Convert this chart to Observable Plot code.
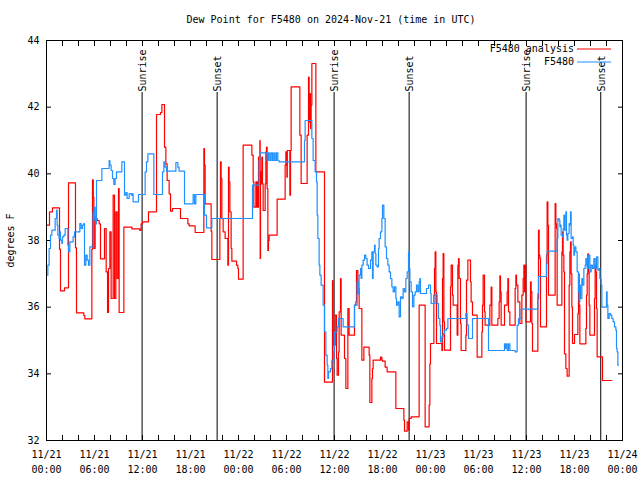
<!DOCTYPE html>
<html><head><meta charset="utf-8">
<script src="https://cdn.jsdelivr.net/npm/d3@7"></script>
<script src="https://cdn.jsdelivr.net/npm/@observablehq/plot@0.6"></script>
<style>
body{margin:0;background:#fff;}
#title{box-sizing:border-box;width:640px;height:30px;padding-top:14px;padding-left:22px;text-align:center;font:10px "DejaVu Sans Mono",monospace;line-height:12px;color:#000;}
</style></head><body>
<div id="title">Dew Point for F5480 on 2024-Nov-21 (time in UTC)</div>
<div id="chart"></div>
<script>
const startDate = "2024-11-21T00:00:00Z";
const seriesNames = ["F5480 analysis", "F5480"];
const seriesColors = ["#ff0000", "#1e90ff"];

const analysisHours = [0,0.375,0.75,1.625,1.75,2.25,2.75,3.625,3.75,4.67,4.79,5.67,5.75,5.85,5.92,6.08,6.33,6.58,6.75,7.25,7.46,7.63,7.75,7.92,8.08,8.33,8.5,8.67,8.83,9.0,9.08,9.67,10.67,11.67,11.83,12.0,12.75,13.75,14.25,14.42,14.75,14.92,15.08,15.33,15.5,15.75,16.75,17.67,17.83,18.58,19.67,19.75,19.83,20.58,20.67,21.67,21.75,21.83,21.92,22.08,22.33,22.67,22.75,22.83,22.92,23.08,23.17,23.75,23.92,24.0,24.58,25.67,25.83,25.92,26.17,26.25,26.33,26.42,26.5,26.67,26.71,26.75,26.83,26.92,27.0,27.08,27.33,27.42,27.5,27.58,27.67,27.75,27.83,28.83,29.83,29.92,30.05,30.1,30.42,30.5,30.58,31.67,31.83,32.58,32.75,32.83,32.92,33.0,33.08,33.17,33.67,34.75,35.75,35.83,35.92,36.08,36.25,36.33,36.5,36.58,36.75,36.83,37.25,37.42,37.67,37.83,38.5,38.67,38.75,38.92,39.08,39.42,39.67,40.33,40.42,40.67,40.75,40.83,41.75,41.92,42.0,42.33,42.58,43.67,44.67,44.75,45.08,45.25,45.33,45.58,46.58,47.33,47.83,47.92,48.0,48.42,48.5,48.58,48.67,48.75,49.42,49.5,49.58,49.67,49.75,50.5,50.58,50.75,50.83,51.33,51.42,51.5,51.58,51.75,51.83,52.42,52.5,52.67,53.0,53.08,53.25,53.83,54.42,54.5,54.58,54.75,54.83,55.42,55.58,55.67,56.42,56.58,56.67,56.75,56.83,57.25,57.58,57.67,57.75,57.92,58.58,58.67,58.75,58.92,59.17,59.42,59.58,59.67,59.75,59.83,59.92,60.5,60.58,60.67,60.75,61.42,61.5,61.58,61.67,61.75,62.5,62.58,62.67,62.75,63.58,63.67,63.75,63.83,64.42,64.5,64.58,64.67,64.75,64.92,65.08,65.33,65.42,65.5,65.58,65.67,65.75,66.0,66.42,66.5,66.58,66.67,67.42,67.5,67.58,67.67,67.75,67.83,67.92,68.5,68.58,68.67,68.75,68.83,69.5,70.67];
const analysisValues = [38.46,38.86,38.98,37.74,36.49,36.58,39.73,37.78,35.83,35.75,35.65,37.74,39.82,39.3,37.76,38.66,38.6,38.5,37.45,38.36,37.06,35.84,37.16,38.26,36.26,39.36,36.26,38.86,36.86,39.56,35.84,38.4,38.35,38.3,38.5,38.56,38.86,41.78,41.84,42.08,40.8,40.3,39.8,39.4,38.88,38.96,38.66,38.5,38.44,38.24,40.76,40.26,39.1,38.28,37.43,38.66,40.36,39.86,38.66,38.26,38.06,37.26,40.2,39.76,38.86,37.76,37.38,37.26,37.16,36.84,40.86,40.56,39.76,39.0,39.76,39.0,39.76,39.0,40.5,41.0,37.46,40.06,39.7,40.5,39.7,38.9,39.7,40.66,40.8,39.56,37.7,38.0,38.16,39.24,40.26,40.66,39.9,40.7,39.36,40.7,42.61,41.16,39.71,41.16,42.9,41.56,42.41,41.36,42.06,43.31,40.06,33.75,36.8,35.3,34.86,35.76,34.46,33.96,34.66,35.86,36.86,35.16,34.46,33.56,35.96,35.16,36.06,36.16,37.1,36.56,35.96,34.41,34.8,34.56,33.14,33.86,34.16,34.41,34.5,34.41,34.38,34.2,34.06,32.96,32.61,32.28,32.56,32.31,32.66,32.71,36.06,32.41,33.06,34.3,34.91,36.36,37.16,37.66,36.46,34.91,34.7,36.86,37.61,35.56,34.71,36.61,37.26,36.36,36.06,35.16,37.26,37.46,36.86,35.51,34.7,35.16,36.81,37.41,36.76,36.16,35.76,34.5,35.26,36.06,36.96,35.86,35.46,36.06,36.6,35.46,35.66,36.16,36.94,36.46,35.46,36.06,36.46,36.86,35.86,35.46,36.56,36.96,36.66,36.16,35.51,36.36,36.86,37.26,36.46,37.26,35.56,36.76,36.46,35.51,34.68,36.26,38.31,37.56,37.46,35.41,37.56,39.16,38.46,36.36,39.11,38.5,38.36,36.06,37.66,38.26,37.56,37.06,34.6,34.16,33.93,36.66,37.66,37.96,37.0,36.0,34.91,35.18,35.8,37.0,36.06,34.9,35.36,36.36,37.0,37.6,37.06,36.06,35.16,36.26,37.26,37.06,35.96,34.51,33.8,33.8];

const stationHours = [0,0.17,0.33,0.5,0.67,1.08,1.25,1.33,1.42,1.58,1.67,1.75,1.92,2.0,2.17,2.33,2.67,2.75,2.92,3.33,3.5,4.17,4.33,4.5,4.67,4.75,4.92,5.08,5.25,5.42,5.83,5.92,6.0,6.08,6.17,6.25,6.92,7.83,7.92,8.08,8.25,8.42,8.58,8.75,9.42,9.75,9.92,10.08,10.33,10.58,10.75,10.83,11.5,12.33,12.5,12.67,13.42,14.5,14.67,14.83,15.0,16.17,16.42,16.58,17.25,18.0,18.33,18.5,18.67,19.75,20.0,20.67,25.75,26.58,26.67,27.58,27.75,27.92,28.08,28.25,28.42,28.58,28.75,28.92,29.08,32.25,32.33,33.17,33.33,33.58,33.75,33.83,33.92,34.08,34.17,34.33,34.58,34.75,34.92,35.08,35.17,35.25,35.5,35.67,35.92,36.0,36.33,36.5,37.08,38.5,38.83,38.92,39.08,39.25,39.33,39.42,39.58,39.75,39.92,40.08,40.25,40.5,40.67,40.75,40.83,41.0,41.08,41.17,41.33,41.5,41.58,41.75,41.92,42.0,42.17,42.33,42.5,42.67,42.83,43.0,43.17,43.33,43.5,43.67,43.75,43.92,44.08,44.25,44.42,44.58,44.75,44.92,45.08,45.25,45.33,45.42,45.58,45.75,45.92,46.08,46.25,46.42,46.58,46.67,46.75,47.5,47.75,48.0,48.08,48.58,48.83,49.0,49.17,49.25,49.42,49.58,49.75,50.0,50.17,52.42,52.58,52.75,53.25,55.25,57.25,57.33,57.42,57.58,57.75,57.92,58.58,58.83,59.0,59.33,61.42,61.5,62.5,62.58,63.83,63.92,64.08,64.17,64.25,64.33,64.5,64.58,64.67,64.75,64.92,65.0,65.08,65.17,65.33,65.42,65.5,65.58,65.75,65.83,65.92,66.0,66.08,66.17,66.33,66.5,66.58,66.67,66.75,66.92,67.0,67.17,67.33,67.42,67.58,67.75,67.92,68.08,68.25,68.42,68.58,68.75,68.92,69.08,69.17,69.33,69.42,70.0,70.08,70.17,70.33,70.5,70.67,70.83,71.0,71.17,71.25,71.33,71.42,71.5];
const stationValues = [36.96,37.26,37.76,38.16,38.31,38.66,38.91,38.46,38.16,38.06,38.26,38.01,37.91,38.11,38.16,38.36,37.86,37.66,37.96,38.11,38.26,38.51,38.36,38.46,38.51,37.26,37.56,37.41,37.26,37.81,38.86,38.61,39.0,38.7,38.5,39.8,40.16,40.4,40.26,40.1,39.86,39.68,39.86,40.06,40.36,39.36,39.44,39.26,39.41,39.36,39.41,39.16,39.38,40.06,40.36,40.6,39.38,40.06,40.36,40.2,40.08,40.34,40.2,40.08,39.1,39.1,39.38,39.1,39.38,38.76,38.38,38.66,39.66,40.4,40.63,40.4,40.63,40.4,40.63,40.4,40.63,40.4,40.63,40.4,40.36,41.0,41.6,41.06,40.4,40.06,39.76,38.76,38.06,37.26,36.96,36.66,36.06,35.26,34.56,34.26,33.86,34.06,34.16,34.41,34.66,35.26,35.41,35.66,35.41,36.06,36.76,36.4,36.96,37.16,36.86,37.26,37.41,37.56,37.46,37.26,37.16,37.41,37.66,36.86,37.66,37.86,37.61,37.26,37.21,37.76,38.06,38.26,38.66,39.06,38.66,37.81,37.46,37.26,37.06,36.86,36.61,36.46,36.61,36.26,36.06,36.16,35.71,36.31,36.26,36.56,36.46,36.86,37.06,37.66,37.16,36.76,36.46,36.01,36.36,36.46,36.66,36.46,36.76,36.86,36.41,36.56,36.66,36.41,36.11,36.38,36.11,35.66,35.46,34.96,35.11,35.21,35.31,35.36,35.66,35.81,35.46,35.06,35.66,34.7,34.9,34.76,34.9,34.7,34.9,34.7,34.66,35.46,35.66,35.94,36.41,36.92,37.3,37.68,38.06,38.66,38.61,38.41,38.46,38.16,38.11,38.36,38.76,38.31,38.86,38.16,38.01,38.21,38.51,38.46,38.86,38.06,38.11,37.86,37.56,37.76,37.81,37.66,37.06,36.46,36.16,36.66,36.26,36.86,36.66,37.16,37.26,37.46,37.16,37.56,37.06,37.26,37.16,37.46,37.16,37.51,37.11,37.16,36.86,36.66,36.0,36.46,36.06,35.66,35.81,35.76,35.66,35.56,35.41,35.31,34.76,34.66,34.26,34.26];

const sunHours = [11.95, 21.33, 35.95, 45.33, 59.95, 69.28];
const sunLabels = ["Sunrise", "Sunset", "Sunrise", "Sunset", "Sunrise", "Sunset"];
const yTicks = [32, 34, 36, 38, 40, 42, 44];
const xLabelHours = [0, 6, 12, 18, 24, 30, 36, 42, 48, 54, 60, 66, 72];
const xMinorHours = d3.range(0, 73, 2);

const t0 = new Date(startDate).getTime();
const toDate = h => new Date(t0 + h * 3600e3);
const analysis = analysisHours.map((h, i) => ({date: toDate(h), value: analysisValues[i]}));
const station = stationHours.map((h, i) => ({date: toDate(h), value: stationValues[i]}));
const sun = sunHours.map((h, i) => ({date: toDate(h), label: sunLabels[i]}));
const fmt = d3.utcFormat("%m/%d\n%H:%M");
const font = "DejaVu Sans Mono";

function legendMark(index, scales, values, dims) {
  const g = d3.create("svg:g").attr("font-family", font).attr("font-size", 10).attr("fill", "black");
  const xr = dims.width - dims.marginRight;
  seriesNames.forEach((name, i) => {
    const y = dims.marginTop + 9 + i * 13;
    g.append("text").attr("x", xr - 48).attr("y", y).attr("dy", "0.32em").attr("text-anchor", "end").text(name);
    g.append("line").attr("x1", xr - 45).attr("x2", xr - 11).attr("y1", y).attr("y2", y)
      .attr("stroke", seriesColors[i]).attr("stroke-width", 1.2);
  });
  return g.node();
}

const chart = Plot.plot({
  width: 640, height: 450,
  marginLeft: 46, marginRight: 18, marginTop: 10, marginBottom: 40,
  style: {fontFamily: font, fontSize: "10px", color: "black", background: "white"},
  x: {type: "utc", domain: [toDate(0), toDate(72)]},
  y: {domain: [32, 44]},
  marks: [
    Plot.axisX({ticks: xLabelHours.map(toDate), tickSize: 0, tickPadding: 7, tickFormat: fmt, label: null, lineHeight: 1.5}),
    Plot.axisX({ticks: xMinorHours.map(toDate), anchor: "bottom", tickSize: -5, tickFormat: () => "", label: null}),
    Plot.axisX({ticks: xMinorHours.map(toDate), anchor: "top", tickSize: -5, tickFormat: () => "", label: null}),
    Plot.axisY({ticks: yTicks, tickSize: 0, tickPadding: 7, label: "degrees F", labelAnchor: "center", labelOffset: 40, labelArrow: "none"}),
    Plot.axisY({ticks: yTicks, anchor: "left", tickSize: -5, tickFormat: () => "", label: null}),
    Plot.axisY({ticks: yTicks, anchor: "right", tickSize: -5, tickFormat: () => "", label: null}),
    Plot.ruleX(sun, {x: "date", insetTop: 52, stroke: "black", strokeWidth: 1}),
    Plot.text(sun, {x: "date", text: "label", frameAnchor: "top", dy: 51, dx: -3, rotate: -90, textAnchor: "start", fill: "black"}),
    Plot.line(analysis, {x: "date", y: "value", stroke: seriesColors[0], strokeWidth: 1.2, curve: "step-after"}),
    Plot.line(station, {x: "date", y: "value", stroke: seriesColors[1], strokeWidth: 1.2, curve: "step-after"}),
    Plot.frame({stroke: "black"}),
    legendMark
  ]
});
document.getElementById("chart").appendChild(chart);
</script>
</body></html>
